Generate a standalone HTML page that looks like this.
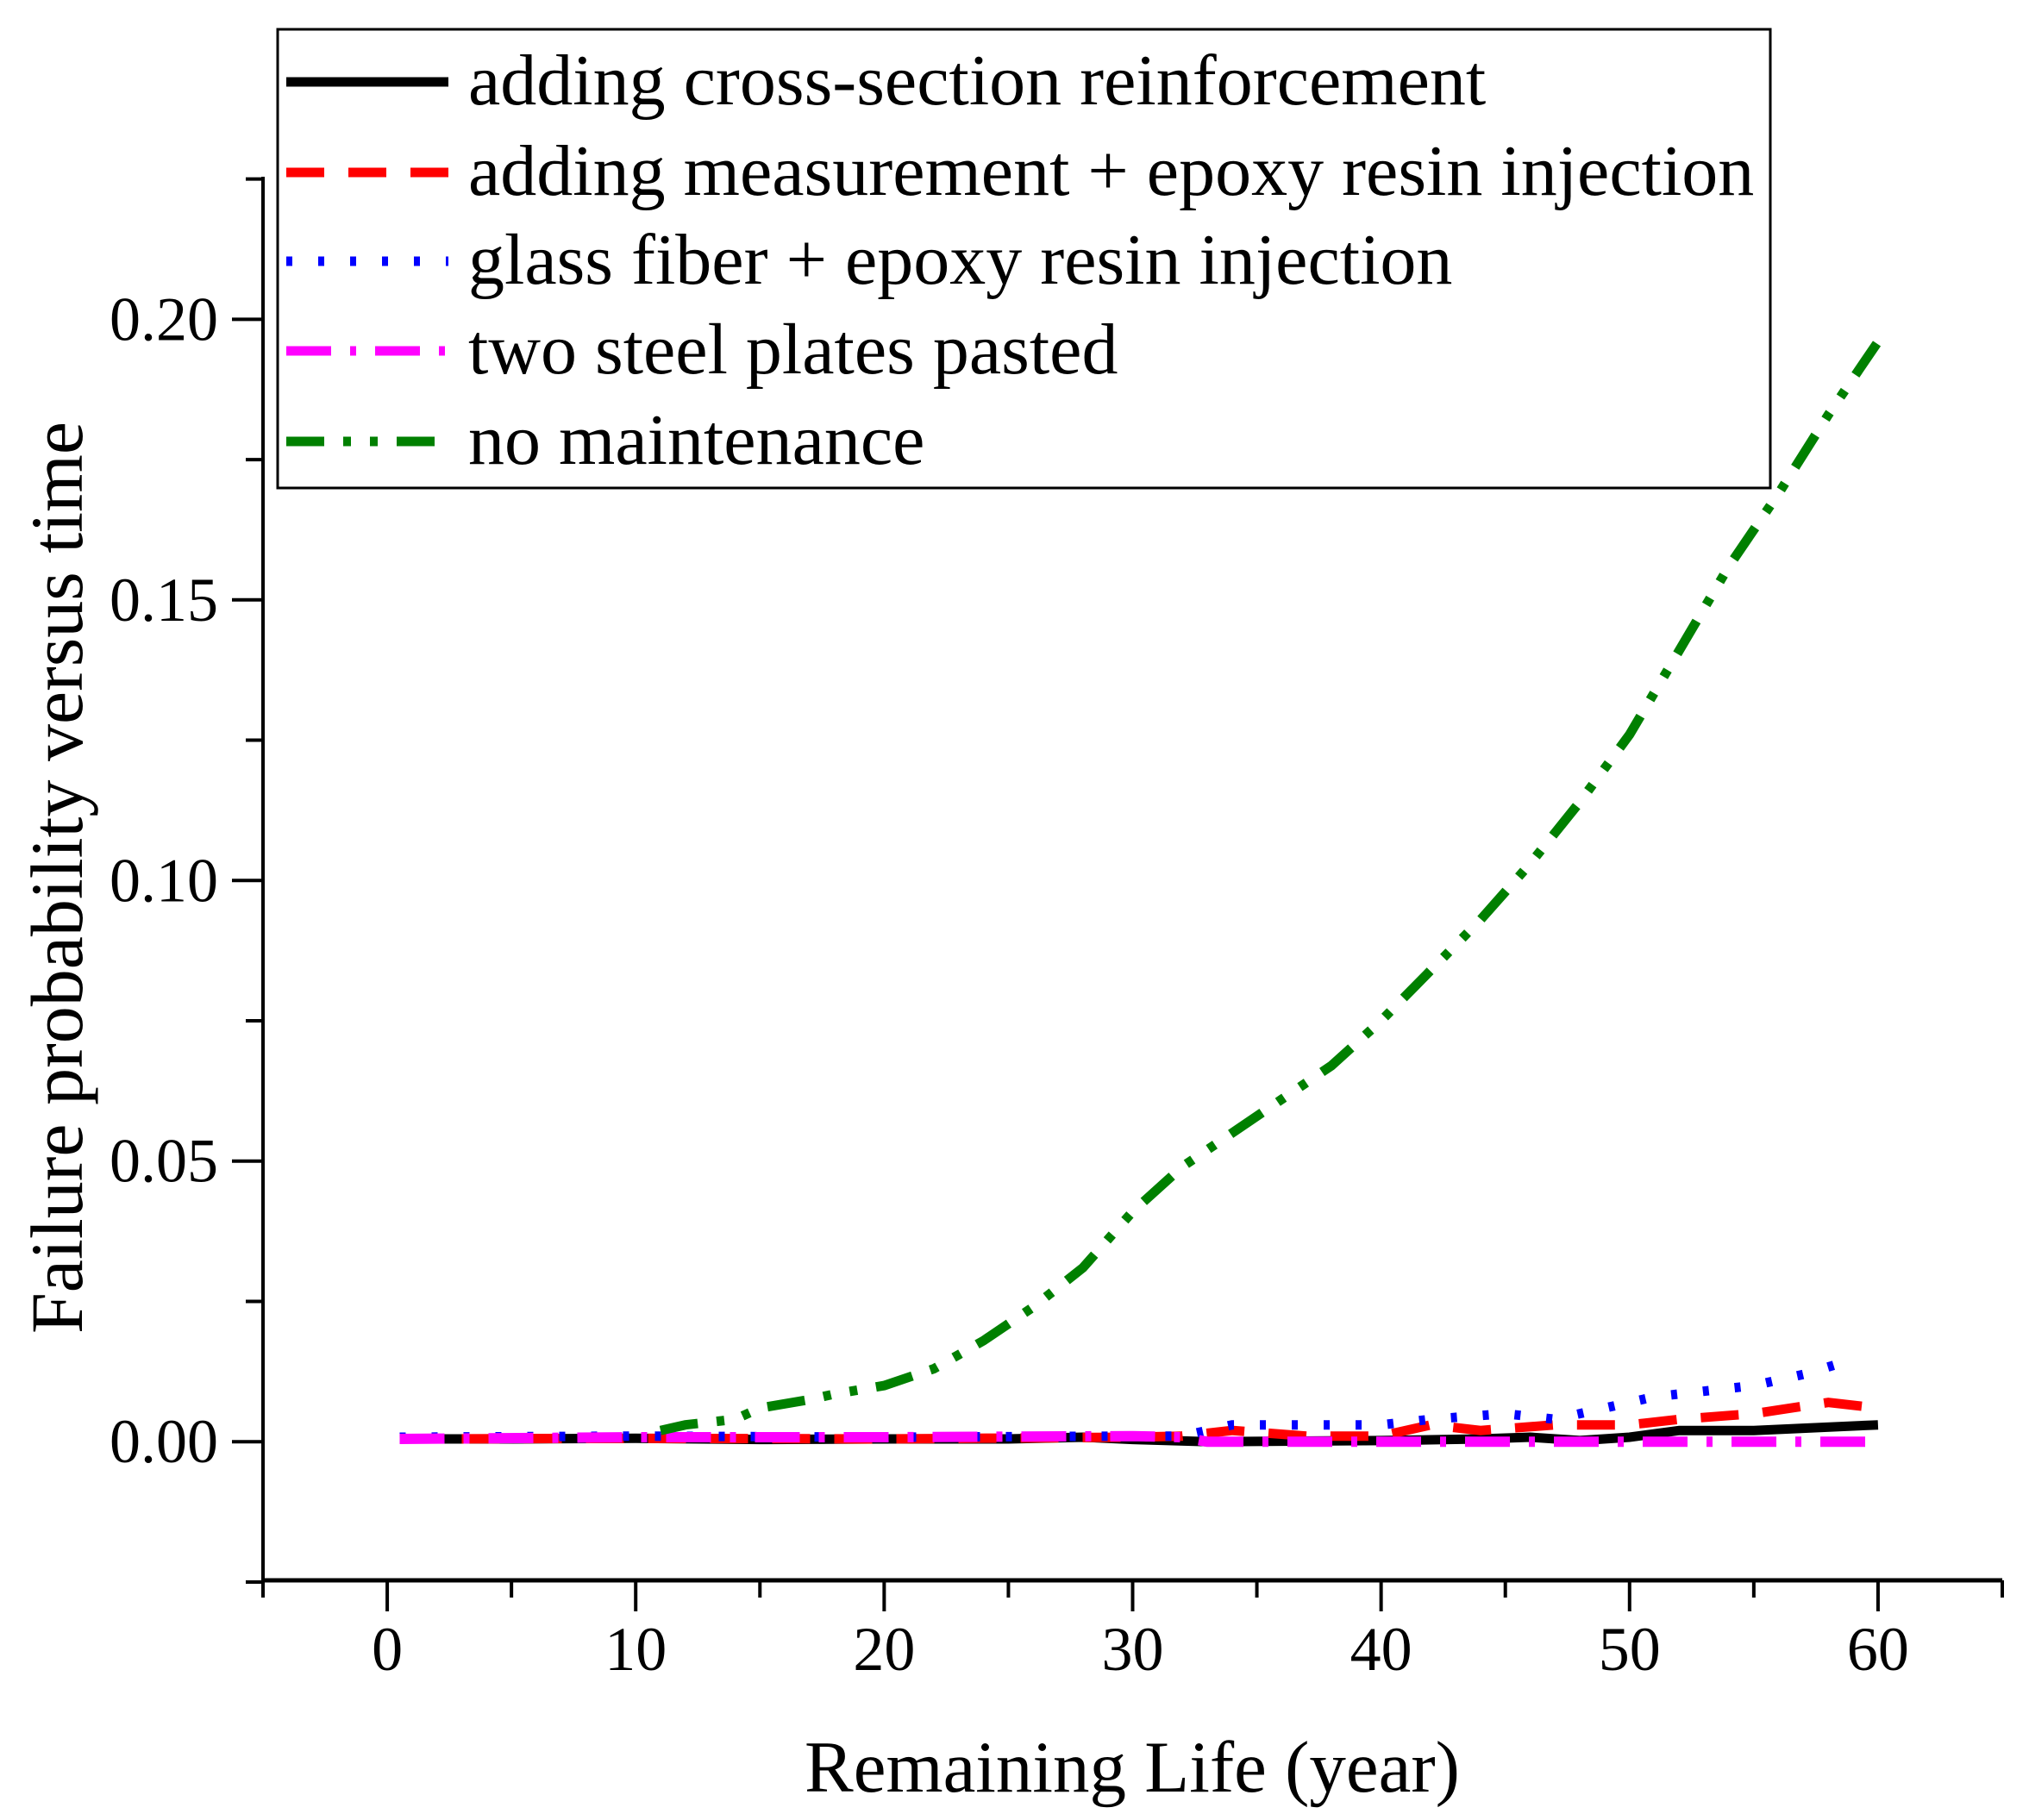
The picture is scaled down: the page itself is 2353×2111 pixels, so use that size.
<!DOCTYPE html>
<html><head><meta charset="utf-8"><style>
html,body{margin:0;padding:0;background:#fff;}
svg{display:block;font-family:"Liberation Serif",serif;}
</style></head><body>
<svg id="chart" width="2353" height="2111" viewBox="0 0 2353 2111" xmlns="http://www.w3.org/2000/svg">
<g id="marks"></g>
<g id="axes"></g>
<g id="legend"></g>
</svg>
<script>
const xTicks = [0,10,20,30,40,50,60];
const xMinor = [-5,5,15,25,35,45,55,65];
const yTicks = [0,0.05,0.10,0.15,0.20];
const yTickLabels = ["0.00","0.05","0.10","0.15","0.20"];
const yMinor = [-0.025,0.025,0.075,0.125,0.175,0.225];
const seriesNames = ["adding cross-section reinforcement","adding measurement + epoxy resin injection","glass fiber + epoxy resin injection","two steel plates pasted","no maintenance"];
const blackX = [0.5,5,10,15,20,25,28,30,33,36,40,44,46,48,50,52,55,60];
const blackY = [0.0005,0.0005,0.0006,0.0004,0.0005,0.0005,0.0008,0.0004,0.0,0.0001,0.0002,0.0005,0.0008,0.0002,0.0008,0.002,0.002,0.003];
const redX = [0.5,10,20,30,32,34,37,40,42,44,47,50,52,55,58,60];
const redY = [0.0005,0.0006,0.0005,0.0008,0.001,0.002,0.001,0.001,0.003,0.002,0.003,0.003,0.004,0.005,0.007,0.006];
const blueX = [0.5,10,20,30,32,34,36,38,40,42,45,47,49,51,53,55,57,58.5];
const blueY = [0.0008,0.001,0.0008,0.001,0.001,0.003,0.003,0.003,0.003,0.004,0.005,0.004,0.006,0.008,0.009,0.010,0.012,0.014];
const magX = [0.5,10,20,30,32,33,40,50,60];
const magY = [0.0005,0.0008,0.0008,0.0010,0.0008,0.0,0.0,0.0,0.0];
const greenX = [11,12,14,15,17,18,20,22,24,26,28,30,32,34,36,38,40,42,44,46,48,50,52,54,56,58,60];
const greenY = [0.002,0.003,0.004,0.006,0.0075,0.0085,0.010,0.013,0.018,0.024,0.031,0.041,0.049,0.055,0.061,0.067,0.075,0.084,0.093,0.103,0.114,0.126,0.141,0.156,0.169,0.183,0.196];

const NS="http://www.w3.org/2000/svg";
const X0=305,X1=2322,Y0=1833,Y1=205;
const xmin=-5,xmax=65,ymin=-0.0247,ymax=0.2254;
function sx(v){return X0+(v-xmin)/(xmax-xmin)*(X1-X0);}
function sy(v){return Y0-(v-ymin)/(ymax-ymin)*(Y0-Y1);}
function mk(tag,attrs,parent){const e=document.createElementNS(NS,tag);for(const k in attrs)e.setAttribute(k,attrs[k]);parent.appendChild(e);return e;}
const marks=document.getElementById('marks'),axes=document.getElementById('axes'),legend=document.getElementById('legend');

const styles=[
 {xs:blackX,ys:blackY,c:"#000",d:"",w:11,n:"series-cross-section"},
 {xs:redX,ys:redY,c:"#ff0000",d:"44 28",w:11,n:"series-measurement-epoxy"},
 {xs:blueX,ys:blueY,c:"#0000ff",d:"7 30",w:11,n:"series-glass-fiber"},
 {xs:magX,ys:magY,c:"#ff00ff",d:"52 22 7 22",w:12,n:"series-steel-plates"},
 {xs:greenX,ys:greenY,c:"#008000",d:"44 22 9 22 9 22",w:11,n:"series-no-maintenance"}
];
styles.forEach(s=>{
  let d="";s.xs.forEach((x,i)=>{d+=(i?"L":"M")+sx(x).toFixed(1)+","+sy(s.ys[i]).toFixed(1);});
  const p=mk('path',{d:d,fill:"none",stroke:s.c,"stroke-width":s.w,"stroke-dasharray":s.d},marks);
  
  
});

let a=mk('line',{x1:X0,y1:Y1,x2:X0,y2:Y0+2,stroke:"#000","stroke-width":4},axes);


a=mk('line',{x1:X0-2,y1:Y0,x2:X1,y2:Y0,stroke:"#000","stroke-width":5},axes);


xTicks.forEach(v=>{
  const t=mk('line',{x1:sx(v),y1:Y0,x2:sx(v),y2:Y0+36,stroke:"#000","stroke-width":4},axes);
  
  
  const l=mk('text',{x:sx(v),y:Y0+104,"text-anchor":"middle","font-size":72},axes);
  l.textContent=String(v);
  
  
});
xMinor.forEach(v=>{
  const t=mk('line',{x1:sx(v),y1:Y0,x2:sx(v),y2:Y0+20,stroke:"#000","stroke-width":4},axes);
  
  
});
yTicks.forEach((v,i)=>{
  const t=mk('line',{x1:X0-36,y1:sy(v),x2:X0,y2:sy(v),stroke:"#000","stroke-width":4},axes);
  
  
  const l=mk('text',{x:X0-52,y:sy(v)+24,"text-anchor":"end","font-size":72},axes);
  l.textContent=yTickLabels[i];
  
  
});
yMinor.forEach(v=>{
  const t=mk('line',{x1:X0-20,y1:sy(v),x2:X0,y2:sy(v),stroke:"#000","stroke-width":4},axes);
  
  
});
let tt=mk('text',{x:1313,y:2078,"text-anchor":"middle","font-size":85},axes);
tt.textContent="Remaining Life (year)";


tt=mk('text',{x:0,y:0,"text-anchor":"middle","font-size":86,transform:"translate(95,1018) rotate(-90)"},axes);
tt.textContent="Failure probability versus time";



const box=mk('rect',{x:322,y:34,width:1731,height:532,fill:"#fff",stroke:"#000","stroke-width":3},legend);


const ly=[95,200,303,407,512];
styles.forEach((s,i)=>{
  const ln=mk('line',{x1:332,y1:ly[i],x2:520,y2:ly[i],stroke:s.c,"stroke-width":11,"stroke-dasharray":s.d},legend);
  
  
  const t=mk('text',{x:543,y:ly[i]+26,"font-size":84},legend);
  t.textContent=seriesNames[i];
  
  
});
</script>
</body></html>
